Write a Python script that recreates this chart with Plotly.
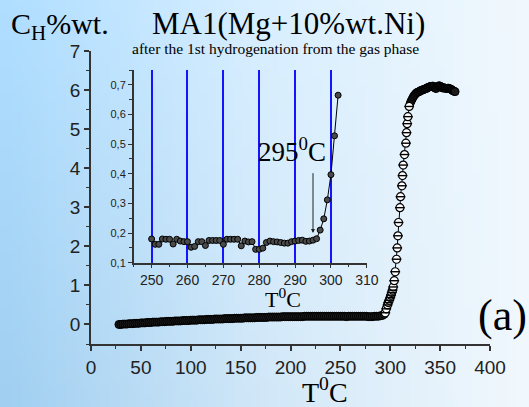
import zlib, struct, base64
import plotly.graph_objects as go

# ---------------- data ----------------
# main curve: flat part (every 2 degC)
flat_T = list(range(28, 296, 2))
flat_C = [
    0.00, 0.00, 0.01, 0.01, 0.01, 0.02, 0.02, 0.02, 0.03, 0.03,
    0.03, 0.04, 0.04, 0.04, 0.05, 0.05, 0.05, 0.06, 0.06, 0.06,
    0.06, 0.07, 0.07, 0.07, 0.08, 0.08, 0.08, 0.08, 0.09, 0.09,
    0.09, 0.09, 0.10, 0.10, 0.10, 0.10, 0.11, 0.11, 0.11, 0.11,
    0.12, 0.12, 0.12, 0.12, 0.13, 0.13, 0.13, 0.13, 0.14, 0.14,
    0.14, 0.14, 0.14, 0.15, 0.15, 0.15, 0.15, 0.15, 0.16, 0.16,
    0.16, 0.16, 0.16, 0.17, 0.17, 0.17, 0.17, 0.17, 0.17, 0.18,
    0.18, 0.18, 0.18, 0.18, 0.18, 0.19, 0.19, 0.19, 0.19, 0.19,
    0.19, 0.19, 0.20, 0.20, 0.20, 0.20, 0.20, 0.20, 0.20, 0.20,
    0.20, 0.20, 0.20, 0.21, 0.21, 0.21, 0.21, 0.21, 0.21, 0.21,
    0.21, 0.21, 0.21, 0.21, 0.21, 0.21, 0.21, 0.21, 0.21, 0.21,
    0.21, 0.21, 0.21, 0.21, 0.20, 0.21, 0.21, 0.21, 0.21, 0.21,
    0.21, 0.21, 0.21, 0.21, 0.21, 0.20, 0.20, 0.20, 0.21, 0.21,
    0.21, 0.22, 0.23, 0.26,
]
# main curve: rise
rise_T = [295, 296, 297.3, 298, 299, 300, 300.7, 301.5, 302.3, 303, 304, 305,
          306.3, 307, 307.7, 308.3, 309.7, 310.3, 311.7, 312.3, 313, 314.3,
          315.7, 316.3, 317, 317.7, 319]
rise_C = [0.30, 0.40, 0.50, 0.56, 0.62, 0.69, 0.75, 0.82, 0.88, 0.96, 1.12, 1.35,
          1.67, 1.96, 2.27, 2.61, 2.99, 3.27, 3.55, 3.81, 4.08, 4.35,
          4.64, 4.91, 5.14, 5.32, 5.58]
# main curve: plateau
plat_T = list(range(320, 366))
plat_C = [5.66, 5.72, 5.77, 5.82, 5.86, 5.89, 5.92, 5.94, 5.95, 5.96,
          5.98, 5.99, 6.00, 6.01, 6.02, 6.03, 6.04, 6.05, 6.07, 6.08,
          6.09, 6.09, 6.10, 6.10, 6.08, 6.05, 6.04, 6.07, 6.10, 6.11,
          6.10, 6.08, 6.06, 6.05, 6.06, 6.05, 6.04, 6.04, 6.05, 6.04,
          6.03, 6.02, 6.00, 5.98, 5.97, 5.96]

main_T = flat_T + rise_T + plat_T
main_C = flat_C + rise_C + plat_C

# inset curve
ins_T = list(range(250, 303))
ins_C = [0.180, 0.162, 0.162, 0.180, 0.179, 0.179, 0.163, 0.179, 0.173, 0.171,
         0.171, 0.152, 0.155, 0.171, 0.171, 0.158, 0.175, 0.175, 0.175, 0.175,
         0.162, 0.179, 0.179, 0.179, 0.179, 0.157, 0.173, 0.170, 0.171, 0.145,
         0.145, 0.149, 0.168, 0.173, 0.171, 0.170, 0.168, 0.166, 0.166, 0.171,
         0.173, 0.175, 0.176, 0.172, 0.173, 0.176, 0.181, 0.210, 0.248, 0.312,
         0.397, 0.528, 0.665]

onset_T = 295
onset_arrow_C = [0.407, 0.200]

# ---------------- layout geometry ----------------
W, H = 529, 407
L, R, T_, B = 91, 39, 51, 63
PW, PH = W - L - R, H - T_ - B

def px(xp):
    return (xp - L) / PW

def py(yp):
    return (H - B - yp) / PH

# background gradient image
def make_png(w, h, func):
    rows = []
    for j in range(h):
        row = bytearray([0])
        for i in range(w):
            row += bytes(func(i / (w - 1), j / (h - 1)))
        rows.append(bytes(row))
    raw = b"".join(rows)

    def chunk(t, d):
        c = struct.pack(">I", len(d)) + t + d
        return c + struct.pack(">I", zlib.crc32(t + d) & 0xffffffff)

    return (b"\x89PNG\r\n\x1a\n"
            + chunk(b"IHDR", struct.pack(">IIBBBBB", w, h, 8, 2, 0, 0, 0))
            + chunk(b"IDAT", zlib.compress(raw))
            + chunk(b"IEND", b""))

def grad(u, v):
    left = (165, 212, 246)
    mid = (212, 234, 250)
    right = (241, 248, 253)
    if u < 0.5:
        t = u / 0.5
        c = [left[k] + (mid[k] - left[k]) * t for k in range(3)]
    else:
        t = (u - 0.5) / 0.5
        c = [mid[k] + (right[k] - mid[k]) * t for k in range(3)]
    d = 10 * (1 - v) * (1 - u) - 5 * v * (1 - u)
    return [max(0, min(255, int(round(x + d)))) for x in c]

bg = "data:image/png;base64," + base64.b64encode(make_png(60, 46, grad)).decode()

# ---------------- figure ----------------
fig = go.Figure()

# connecting line through the whole main curve
fig.add_trace(go.Scatter(
    x=main_T, y=main_C, mode="lines",
    line=dict(color="black", width=1),
    xaxis="x", yaxis="y", showlegend=False, hoverinfo="skip"))

# dense segments: overlapping markers read as a dark band
for seg_T, seg_C in ((flat_T, flat_C), (plat_T, plat_C)):
    fig.add_trace(go.Scatter(
        x=seg_T, y=seg_C, mode="markers",
        marker=dict(symbol="circle", size=8, color="#1c1c1c",
                    line=dict(color="black", width=1)),
        xaxis="x", yaxis="y", showlegend=False, hoverinfo="skip"))

# sparse rise: white "half-bar" circles
fig.add_trace(go.Scatter(
    x=rise_T, y=rise_C, mode="markers",
    marker=dict(symbol="circle", size=8, color="white",
                line=dict(color="black", width=1.2)),
    xaxis="x", yaxis="y", showlegend=False, hoverinfo="skip"))
fig.add_trace(go.Scatter(
    x=rise_T, y=rise_C, mode="markers",
    marker=dict(symbol="line-ew", size=7,
                line=dict(color="black", width=1.4)),
    xaxis="x", yaxis="y", showlegend=False, hoverinfo="skip"))

fig.add_trace(go.Scatter(
    x=ins_T, y=ins_C, mode="lines+markers",
    line=dict(color="black", width=1),
    marker=dict(symbol="circle", size=6, color="#4a4a4a",
                line=dict(color="black", width=1)),
    xaxis="x2", yaxis="y2", showlegend=False, hoverinfo="skip"))

axis_col = "#333333"
tick_font = dict(family="Liberation Sans, Arial, sans-serif", size=19, color="#222222")

fig.update_layout(
    width=W, height=H,
    margin=dict(l=L, r=R, t=T_, b=B, pad=0),
    paper_bgcolor="#d6ebfa",
    plot_bgcolor="rgba(0,0,0,0)",
    images=[dict(source=bg, xref="paper", yref="paper",
                 x=px(0), y=py(0), sizex=W / PW, sizey=H / PH,
                 xanchor="left", yanchor="top", sizing="stretch",
                 layer="below")],
    xaxis=dict(domain=[0, 1], range=[0, 400], dtick=50, tick0=0,
               showline=True, linecolor=axis_col, linewidth=1.5,
               ticks="outside", ticklen=5, tickwidth=1.5, tickcolor=axis_col,
               minor=dict(ticks="outside", dtick=25, ticklen=3, tickcolor=axis_col, tickwidth=1.2),
               showgrid=False, zeroline=False, tickfont=tick_font),
    yaxis=dict(domain=[0, 1], range=[-0.5, 7], dtick=1, tick0=0,
               showline=True, linecolor=axis_col, linewidth=1.5,
               ticks="outside", ticklen=5, tickwidth=1.5, tickcolor=axis_col,
               minor=dict(ticks="outside", dtick=0.5, ticklen=3, tickcolor=axis_col, tickwidth=1.2),
               showgrid=False, zeroline=False, tickfont=tick_font),
    xaxis2=dict(domain=[px(133.7), px(366.8)], range=[245, 310], dtick=10, tick0=0,
                anchor="y2",
                showline=True, linecolor=axis_col, linewidth=1.5,
                ticks="outside", ticklen=4, tickwidth=1.2, tickcolor=axis_col,
                minor=dict(ticks="outside", dtick=5, ticklen=3, tickcolor=axis_col),
                showgrid=True, gridcolor="#1414ff", gridwidth=1.5,
                zeroline=False,
                tickfont=dict(family="Liberation Sans, Arial, sans-serif", size=14, color="#222222")),
    yaxis2=dict(domain=[py(262.7), py(70)], range=[0.1, 0.75], dtick=0.1, tick0=0,
                anchor="x2", tickformat=".1f",
                showline=True, linecolor=axis_col, linewidth=1.5,
                ticks="outside", ticklen=4, tickwidth=1.2, tickcolor=axis_col,
                minor=dict(ticks="outside", dtick=0.05, ticklen=3, tickcolor=axis_col),
                showgrid=False, zeroline=False,
                tickfont=dict(family="Liberation Sans, Arial, sans-serif", size=11, color="#222222")),
    separators=",.",
)

serif = "Liberation Serif, Times New Roman, serif"
annots = [
    dict(text="MA1(Mg+10%wt.Ni)", x=px(288), y=py(24), size=31),
    dict(text="after the 1st hydrogenation from the gas phase", x=px(275), y=py(49), size=15.5),
    dict(text="T<sup>0</sup>C", x=px(325), y=py(390), size=28),
    dict(text="T<sup>0</sup>C", x=px(283), y=py(298), size=22),
    dict(text="(a)", x=px(502), y=py(315), size=44),
]
for a in annots:
    fig.add_annotation(text=a["text"], x=a["x"], y=a["y"], xref="paper", yref="paper",
                       xanchor="center", yanchor="middle", showarrow=False,
                       font=dict(family=serif, size=a["size"], color="black"))

fig.add_annotation(text="C<sub>H</sub>%wt.", x=px(9), y=py(26), xref="paper", yref="paper",
                   xanchor="left", yanchor="middle", showarrow=False,
                   font=dict(family=serif, size=30, color="black"))

fig.add_annotation(text="295<sup>0</sup>C", x=289.1, y=0.481, xref="x2", yref="y2",
                   xanchor="center", yanchor="middle", showarrow=False,
                   font=dict(family=serif, size=27, color="black"))

fig.add_annotation(x=onset_T, y=onset_arrow_C[1], ax=onset_T, ay=onset_arrow_C[0],
                   xref="x2", yref="y2", axref="x2", ayref="y2", text="",
                   showarrow=True, arrowhead=2, arrowsize=0.8, arrowwidth=1,
                   arrowcolor="#222222")

fig.write_html("out.html")
